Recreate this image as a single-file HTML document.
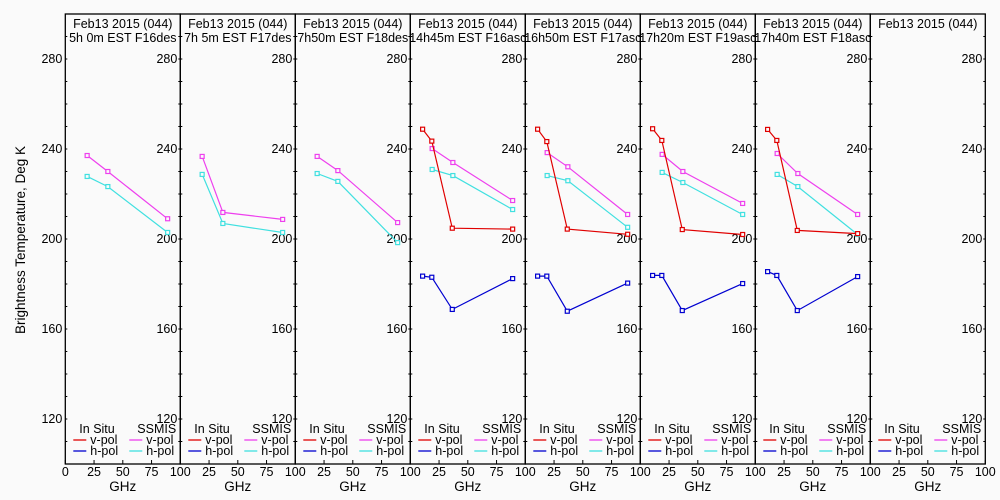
<!DOCTYPE html>
<html><head><meta charset="utf-8">
<style>
html,body{margin:0;padding:0;background:#fafafa;}
svg{display:block;}
text{font-family:"Liberation Sans",sans-serif;font-size:12.5px;fill:#000;}
</style></head>
<body>
<svg id="chart" width="1000" height="500" viewBox="0 0 1000 500">
<rect x="0" y="0" width="1000" height="500" fill="#fafafa"/>
<text x="25" y="240" transform="rotate(-90 25 240)" text-anchor="middle" style="font-size:13.5px">Brightness Temperature, Deg K</text>
</svg>
<script>
const titles1 = ["Feb13 2015 (044)","Feb13 2015 (044)","Feb13 2015 (044)","Feb13 2015 (044)","Feb13 2015 (044)","Feb13 2015 (044)","Feb13 2015 (044)","Feb13 2015 (044)"];
const titles2 = ["5h 0m  EST F16des","7h 5m  EST F17des","7h50m  EST F18des","14h45m  EST F16asc","16h50m  EST F17asc","17h20m  EST F19asc","17h40m  EST F18asc",""];
const insituFreq = [10.7, 18.7, 36.5, 89];
const ssmisFreq = [19, 37, 89];
const insituV = [null,null,null,[248.8,243.5,204.8,204.4],[248.8,243.3,204.4,202.1],[249,243.8,204.2,202],[248.7,243.8,203.8,202.4],null];
const insituH = [null,null,null,[183.5,183.0,168.7,182.4],[183.5,183.5,167.9,180.4],[183.8,183.8,168.2,180.2],[185.5,183.8,168.2,183.3],null];
const ssmisV = [[237.1,230,209],[236.7,211.8,208.7],[236.7,230.4,207.3],[240.2,234,217.1],[238.4,232.1,210.9],[237.6,230,215.8],[238,229.1,210.9],null];
const ssmisH = [[227.8,223.3,202.9],[228.7,206.9,202.9],[229.1,225.6,198.4],[230.9,228.2,213.1],[228.2,225.9,205.2],[229.6,225.1,210.9],[228.7,223.3,202],null];
const yTicks = [120,160,200,240,280];
const xTicks = [0,25,50,75,100];

const svg = document.getElementById('chart');
const NS = 'http://www.w3.org/2000/svg';
const X0 = 65.3, PW = 115.0, TOP = 14, BOT = 464;
function xs(p, f){ return X0 + p*PW + f*PW/100; }
function ys(t){ return BOT - (t-100)*(BOT-TOP)/200; }
function mk(tag, attrs){ const e=document.createElementNS(NS,tag); for(const k in attrs) e.setAttribute(k,attrs[k]); svg.appendChild(e); return e; }

for(let p=0;p<8;p++){
  const L = xs(p,0), R = xs(p,100);
  const fr = mk('rect',{x:L,y:TOP,width:PW,height:BOT-TOP,fill:'none',stroke:'#000','stroke-width':1.3});
  
  
  const t1 = mk('text',{x:L+PW/2,y:28,'text-anchor':'middle'}); t1.textContent=titles1[p];
  
  
  if(titles2[p]){
    const t2 = mk('text',{x:L+PW/2,y:42,'text-anchor':'middle'}); t2.textContent=titles2[p];
    
    
  }
  for(let v=110; v<=290; v+=10){
    const y=ys(v);
    mk('line',{x1:L,x2:L+2,y1:y,y2:y,stroke:'#000'});
    mk('line',{x1:R-2,x2:R,y1:y,y2:y,stroke:'#000'});
  }
  yTicks.forEach(v=>{
    const y=ys(v);
    const tl = mk('text',{x:R-3,y:y+4,'text-anchor':'end'}); tl.textContent=v;
    
    
    if(p===0){ const t0 = mk('text',{x:L-3,y:y+4,'text-anchor':'end'}); t0.textContent=v;
      
       }
  });
  xTicks.forEach(f=>{
    if(f===0 && p>0) return;
    const x=xs(p,f);
    mk('line',{x1:x,x2:x,y1:BOT,y2:BOT-4,stroke:'#000'});
    const tx = mk('text',{x:x,y:476,'text-anchor':'middle'}); tx.textContent=f;
    
    
  });
  const gx = mk('text',{x:L+PW/2,y:491,'text-anchor':'middle',style:'font-size:13.5px'}); gx.textContent='GHz';
  
  
  const a = mk('text',{x:L+14,y:433}); a.textContent='In Situ';
  
  
  const b = mk('text',{x:L+72,y:433}); b.textContent='SSMIS';
  
  
  [['#e00000','v-pol',444,8,'legend-insitu-vpol'],['#0000d0','h-pol',455,8,'legend-insitu-hpol'],['#ee40ee','v-pol',444,64,'legend-ssmis-vpol'],['#40e0e0','h-pol',455,64,'legend-ssmis-hpol']].forEach(d=>{
    mk('line',{x1:L+d[3],x2:L+d[3]+13,y1:d[2]-4,y2:d[2]-4,stroke:d[0],'stroke-width':1.3});
    const lt = mk('text',{x:L+d[3]+17,y:d[2]}); lt.textContent=d[1];
    
    
  });
  function series(freqs, vals, color, name){
    if(!vals) return;
    const pts = vals.map((v,i)=>xs(p,freqs[i]).toFixed(1)+','+ys(v).toFixed(1)).join(' ');
    const pl = mk('polyline',{points:pts,fill:'none',stroke:color,'stroke-width':1.2});
    
    
    vals.forEach((v,i)=>{
      const r = mk('rect',{x:xs(p,freqs[i])-2,y:ys(v)-2,width:4,height:4,fill:'#fafafa',stroke:color,'stroke-width':1.2});
      
      
    });
  }
  series(ssmisFreq, ssmisV[p], '#ee40ee', 'ssmis-vpol');
  series(ssmisFreq, ssmisH[p], '#40e0e0', 'ssmis-hpol');
  series(insituFreq, insituV[p], '#e00000', 'insitu-vpol');
  series(insituFreq, insituH[p], '#0000d0', 'insitu-hpol');
}
</script>
</body></html>
